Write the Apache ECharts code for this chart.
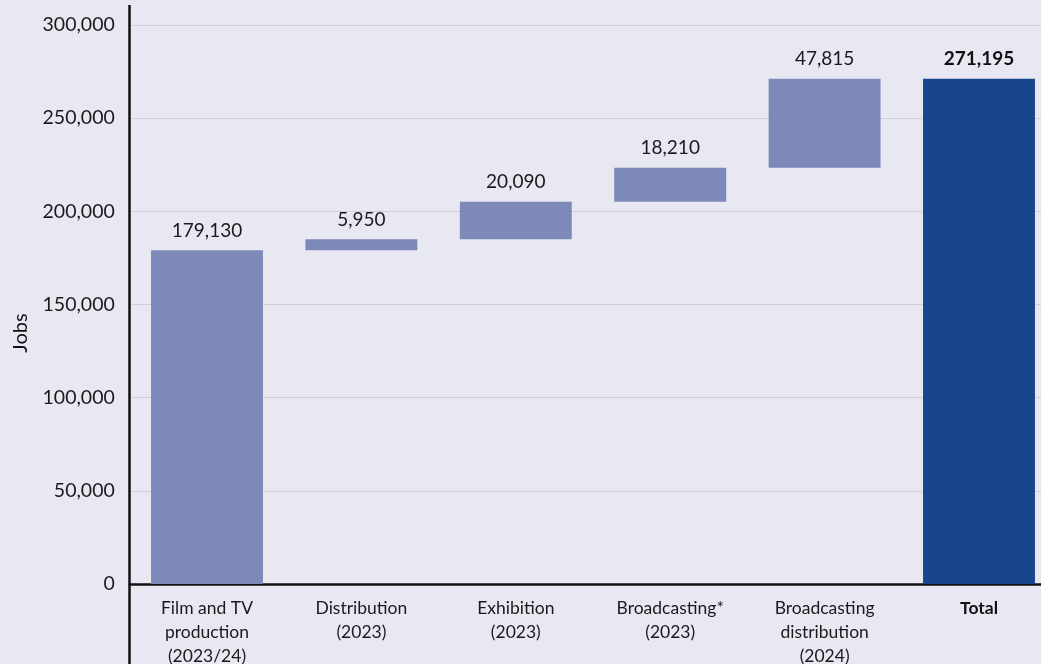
<!DOCTYPE html>
<html>
<head>
<meta charset="utf-8">
<script src="https://cdn.jsdelivr.net/npm/echarts@6/dist/echarts.min.js"></script>
<style>
  html, body { margin: 0; padding: 0; background: #e8e8f3; }
  #chart { width: 1041px; height: 664px; }
</style>
</head>
<body>
<div id="chart"></div>
<script>
// categories and values
var categories = ['Film and TV\nproduction\n(2023/24)', 'Distribution\n(2023)', 'Exhibition\n(2023)',
  'Broadcasting*\n(2023)', 'Broadcasting\ndistribution\n(2024)', 'Total'];
var jobs = [179130, 5950, 20090, 18210, 47815, 271195];
var yTicks = [0, 50000, 100000, 150000, 200000, 250000, 300000];

// invisible base for the floating bars (running total before each step)
var base = [];
var running = 0;
for (var i = 0; i < jobs.length; i++) {
  if (i === jobs.length - 1) {
    base.push(0);
  } else {
    base.push(running);
    running += jobs[i];
  }
}

var font = 'Lato, "Open Sans", sans-serif';
var lastIdx = jobs.length - 1;

var myChart = echarts.init(document.getElementById('chart'));
myChart.setOption({
  backgroundColor: '#e8e8f3',
  animation: false,
  grid: { left: 129.8, top: 25, width: 926.4, bottom: 80, outerBoundsMode: 'none', containLabel: false },
  xAxis: {
    type: 'category',
    data: categories,
    axisLine: { show: true, lineStyle: { color: '#111', width: 2.5 } },
    axisTick: { show: false },
    axisLabel: {
      color: '#1a1a1a', fontSize: 17.5, fontFamily: font, lineHeight: 24, margin: 12,
      interval: 0,
      formatter: function (v, idx) { return idx === lastIdx ? '{b|' + v + '}' : v; },
      rich: { b: { fontWeight: 'bold', fontSize: 17.5, fontFamily: font, color: '#111' } }
    }
  },
  yAxis: {
    type: 'value',
    min: yTicks[0],
    max: yTicks[yTicks.length - 1],
    interval: yTicks[1] - yTicks[0],
    axisLine: { show: false },
    axisTick: { show: false },
    splitLine: { show: true, lineStyle: { color: '#cfcfda', width: 1.2 } },
    axisLabel: {
      color: '#1a1a1a', fontSize: 19.5, fontFamily: font, margin: 15,
      formatter: function (v) { return v.toLocaleString('en-US'); }
    }
  },
  graphic: [
    // y axis line runs past the plot area top and bottom
    { type: 'line', shape: { x1: 129.5, y1: 5, x2: 129.5, y2: 664 },
      style: { stroke: '#111', lineWidth: 2.5 }, z: 10 },
    { type: 'text', x: 21, y: 333, rotation: Math.PI / 2,
      style: { text: 'Jobs', fill: '#111', fontSize: 20, fontFamily: font,
               align: 'center', verticalAlign: 'middle' } }
  ],
  series: [
    {
      type: 'bar', stack: 'w', data: base, barWidth: '72.5%',
      itemStyle: { color: 'transparent' }, silent: true
    },
    {
      type: 'bar', stack: 'w', barWidth: '72.5%',
      data: jobs.map(function (v, idx) {
        return idx === lastIdx
          ? { value: v, itemStyle: { color: '#17478a' },
              label: { fontWeight: 'bold', color: '#111' } }
          : v;
      }),
      itemStyle: { color: '#7d89b8' },
      label: {
        show: true, position: 'top', distance: 10,
        color: '#1a1a1a', fontSize: 19, fontFamily: font,
        formatter: function (p) { return p.value.toLocaleString('en-US'); }
      }
    }
  ]
});
</script>
</body>
</html>
